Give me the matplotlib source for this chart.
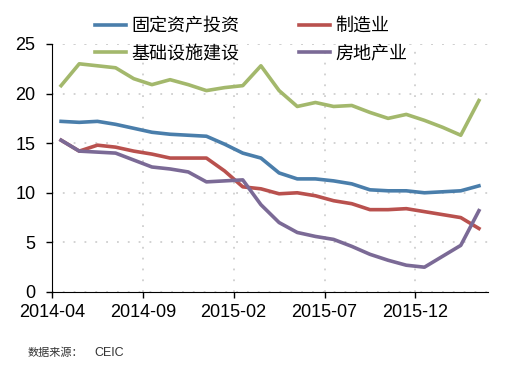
import matplotlib
matplotlib.use('Agg')
import matplotlib.pyplot as plt
import numpy as np

plt.rcParams['font.family'] = ['Liberation Sans', 'Noto Sans CJK SC', 'DejaVu Sans']

# monthly data, 2014-04 .. 2016-03
months = ['2014-04', '2014-05', '2014-06', '2014-07', '2014-08', '2014-09',
          '2014-10', '2014-11', '2014-12', '2015-01', '2015-02', '2015-03',
          '2015-04', '2015-05', '2015-06', '2015-07', '2015-08', '2015-09',
          '2015-10', '2015-11', '2015-12', '2016-01', '2016-02', '2016-03']
fai = [17.2, 17.1, 17.2, 16.9, 16.5, 16.1, 15.9, 15.8, 15.7, 14.9, 14.0, 13.5,
       12.0, 11.4, 11.4, 11.2, 10.9, 10.3, 10.2, 10.2, 10.0, 10.1, 10.2, 10.7]
manuf = [15.3, 14.2, 14.8, 14.6, 14.2, 13.9, 13.5, 13.5, 13.5, 12.2, 10.6, 10.4,
         9.9, 10.0, 9.7, 9.2, 8.9, 8.3, 8.3, 8.4, 8.1, 7.8, 7.5, 6.4]
infra = [20.8, 23.0, 22.8, 22.6, 21.5, 20.9, 21.4, 20.9, 20.3, 20.6, 20.8, 22.8,
         20.3, 18.7, 19.1, 18.7, 18.8, 18.1, 17.5, 17.9, 17.3, 16.6, 15.8, 19.3]
realty = [15.3, 14.2, 14.1, 14.0, 13.3, 12.6, 12.4, 12.1, 11.1, 11.2, 11.3, 8.8,
          7.0, 6.0, 5.6, 5.3, 4.6, 3.8, 3.2, 2.7, 2.5, 3.6, 4.7, 8.2]
names = ['固定资产投资', '基础设施建设', '制造业', '房地产业']
tick_idx = [0, 5, 10, 15, 20]

x = np.arange(len(months))

fig = plt.figure(figsize=(5.2, 3.81), dpi=100)
ax = fig.add_axes([0.1, 0.2336, 0.8385, 0.651])

l1, = ax.plot(x, fai, color='#4A7EAB', lw=2.6)
l3, = ax.plot(x, manuf, color='#B9514E', lw=2.6)
l2, = ax.plot(x, infra, color='#A3B86C', lw=2.6)
l4, = ax.plot(x, realty, color='#7B6A96', lw=2.6)

ax.set_xlim(-0.5, len(months) - 0.5)
ax.set_ylim(0, 25)
ax.set_yticks([0, 5, 10, 15, 20, 25])
ax.set_xticks([i - 0.5 for i in tick_idx])
ax.set_xticklabels([months[i] for i in tick_idx])
ax.tick_params(axis='both', labelsize=13, length=4, width=1, direction='out')
ax.tick_params(axis='x', pad=5)
ax.tick_params(axis='y', pad=8)

ax.grid(True, color='#CFCFCF', linestyle=(0, (1, 5)), linewidth=1.3)
ax.set_axisbelow(True)
# top gridline at 25
ax.axhline(25, color='#CFCFCF', linestyle=(0, (1, 5)), linewidth=1.3, zorder=0)
ax.spines['top'].set_visible(False)
ax.spines['right'].set_visible(False)
ax.spines['left'].set_color('black')
ax.spines['bottom'].set_color('black')

fig.legend([l1, l2, l3, l4], names, loc='upper left',
           bbox_to_anchor=(0.183, 0.955), ncol=2, frameon=False,
           prop={'family': ['Noto Sans CJK SC'], 'size': 13},
           handlelength=1.7, handletextpad=0.3, columnspacing=3.3,
           labelspacing=0.5, borderpad=0, borderaxespad=0)

fig.text(0.054, 0.073, '数据来源：', fontsize=8, family=['Noto Sans CJK SC'],
         color='#333333', va='center')
fig.text(0.181, 0.073, 'CEIC', fontsize=9, color='#333333', va='center')

fig.savefig('out.png', dpi=100)
